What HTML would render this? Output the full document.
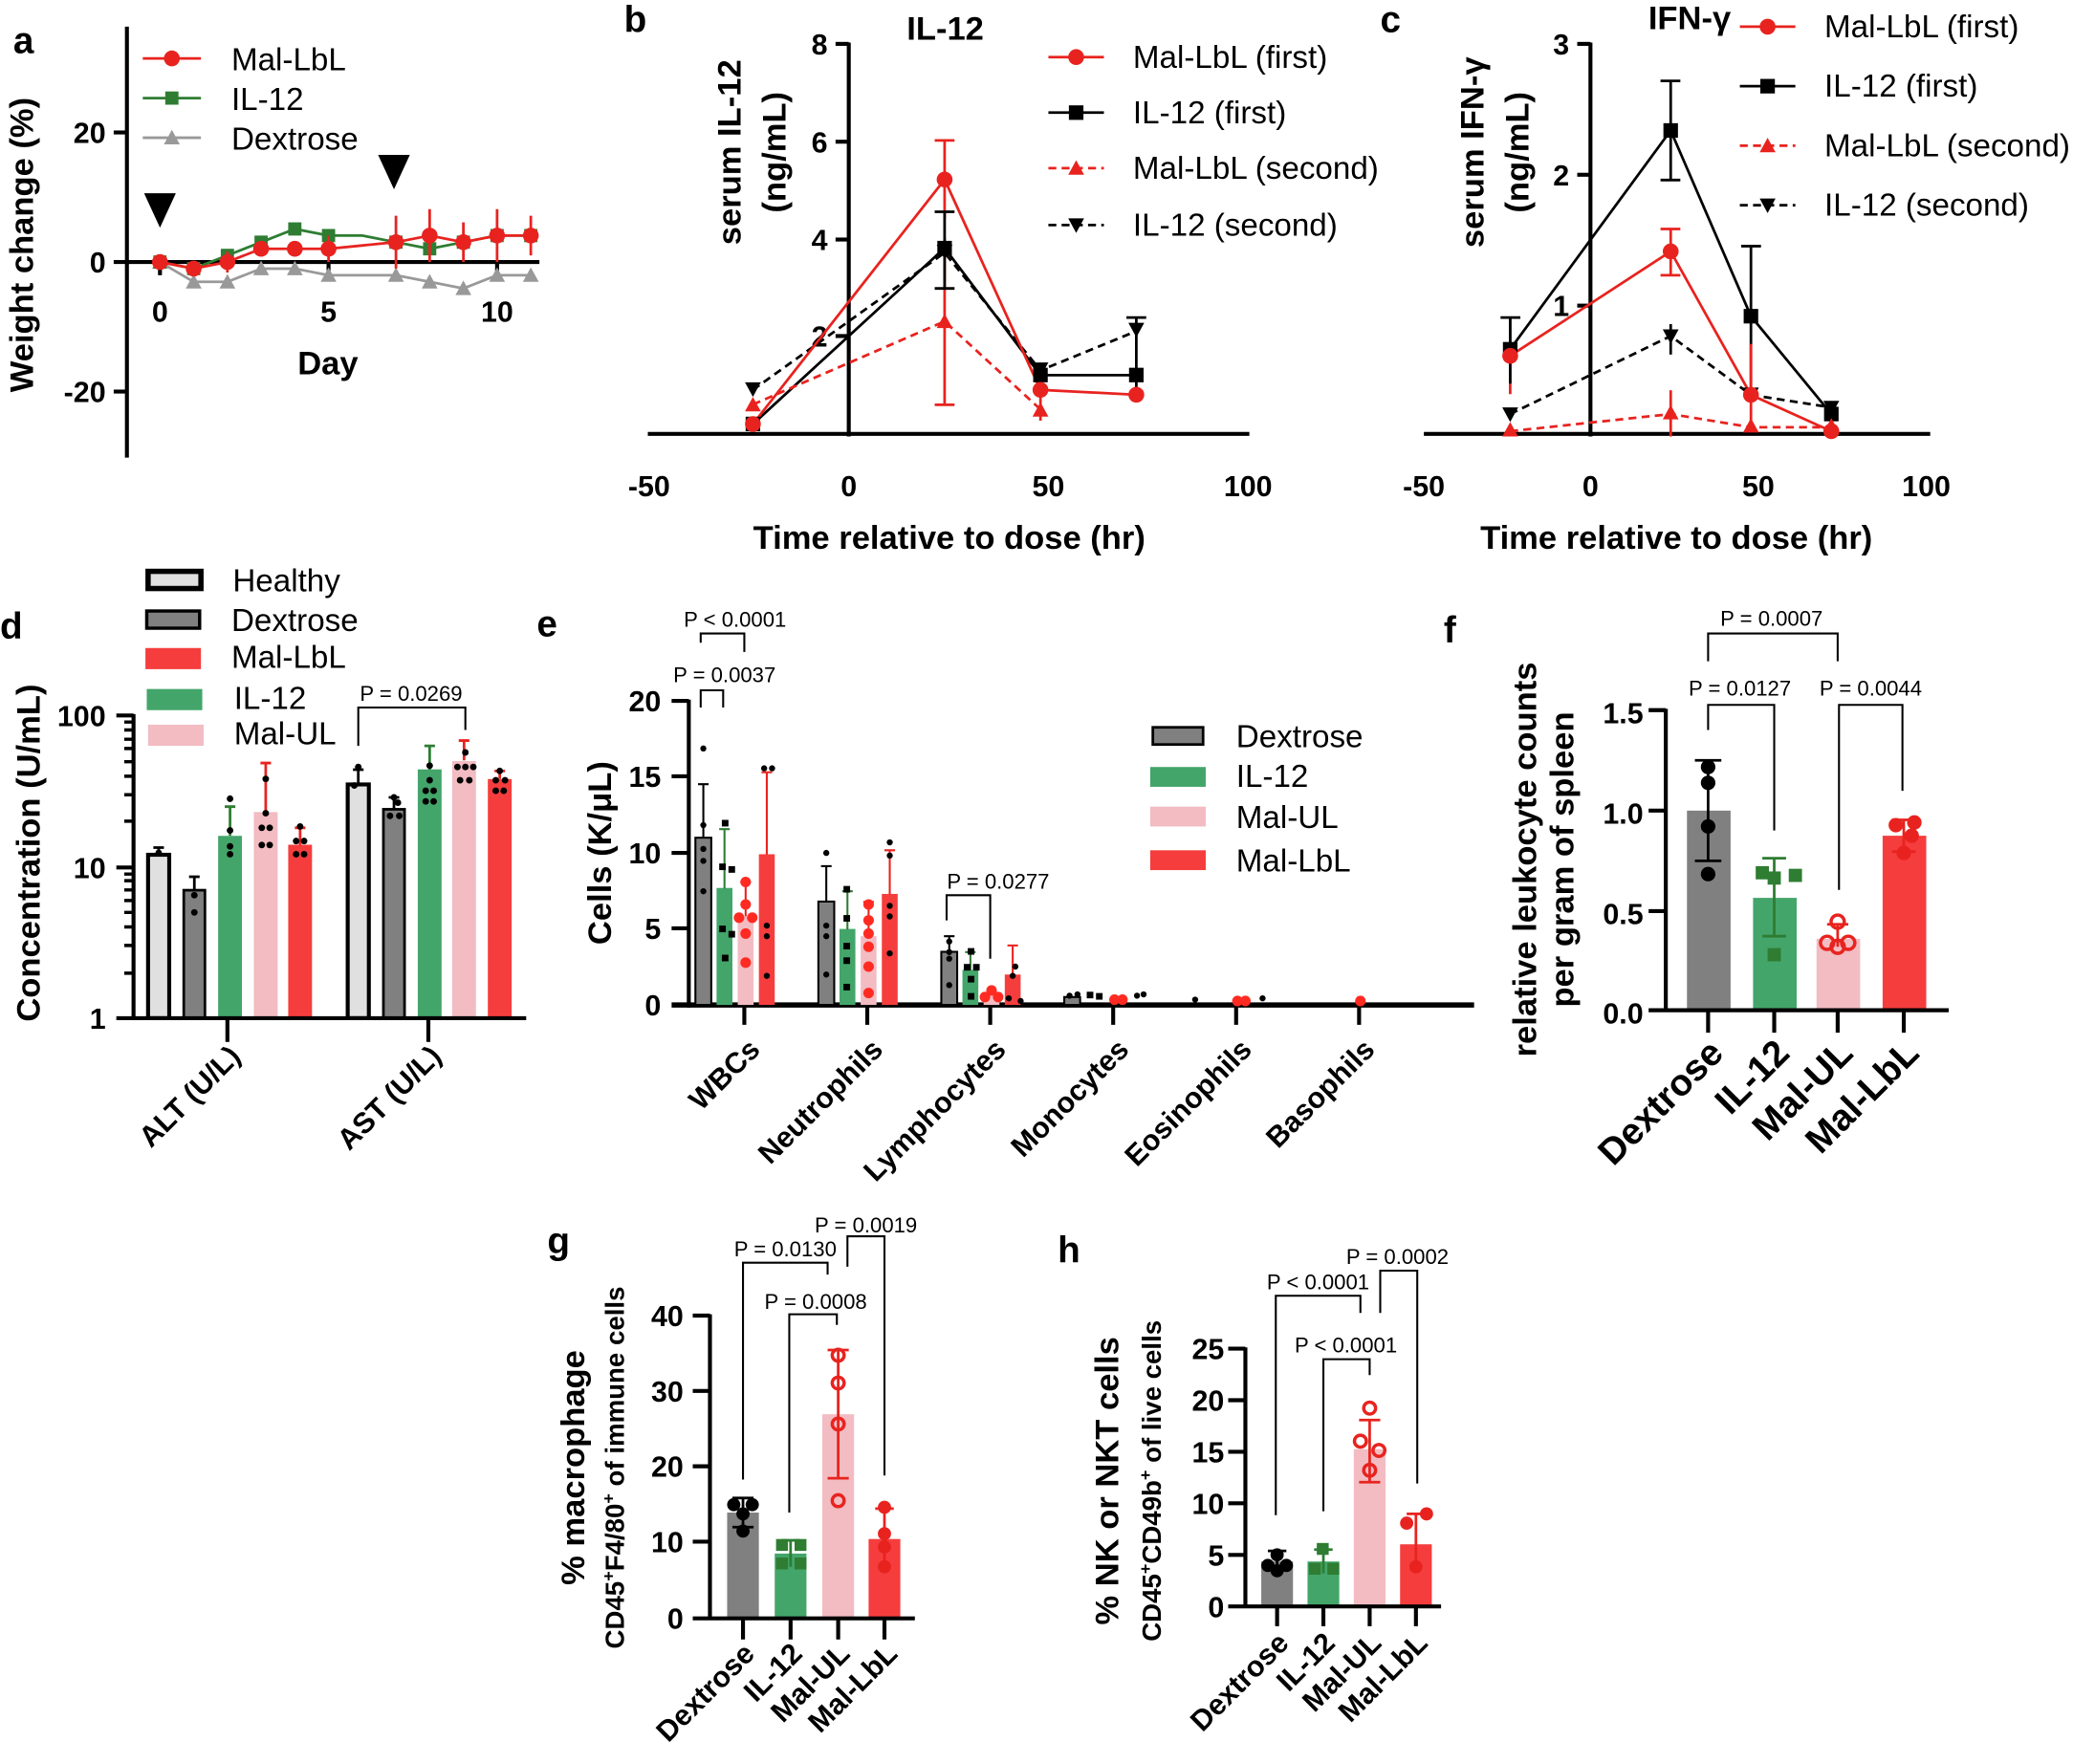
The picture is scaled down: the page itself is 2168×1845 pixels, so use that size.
<!DOCTYPE html>
<html><head><meta charset="utf-8"><style>
html,body{margin:0;padding:0;background:#fff}
svg{display:block}
text{font-family:"Liberation Sans",Arial,sans-serif}
.t{font-weight:bold;font-size:22px}
.lab{font-weight:bold;font-size:25px}
.pl{font-weight:bold;font-size:28px}
.lg{font-size:24px}
.p{font-size:16px}
</style></head><body>
<svg width="2168" height="1845" viewBox="0 0 1568 1334" xmlns="http://www.w3.org/2000/svg">
<rect width="1568" height="1334" fill="#fff"/>

<!-- ===== Panel a ===== -->
<text x="10" y="40" class="pl">a</text>
<g stroke="#000" stroke-width="3" fill="none">
<line x1="96" y1="20" x2="96" y2="346"/>
<line x1="96" y1="198" x2="408" y2="198"/>
<line x1="86" y1="100" x2="96" y2="100"/><line x1="86" y1="198" x2="96" y2="198"/><line x1="86" y1="296" x2="96" y2="296"/>
<line x1="121" y1="198" x2="121" y2="208"/><line x1="248.5" y1="198" x2="248.5" y2="208"/><line x1="376" y1="198" x2="376" y2="208"/>
</g>
<g class="t" text-anchor="end"><text x="80" y="108">20</text><text x="80" y="206">0</text><text x="80" y="304">-20</text></g>
<g class="t" text-anchor="middle"><text x="121" y="243">0</text><text x="248.5" y="243">5</text><text x="376" y="243">10</text></g>
<text x="248" y="283" class="lab" text-anchor="middle">Day</text>
<text transform="translate(25,185) rotate(-90)" class="lab" text-anchor="middle">Weight change  (%)</text>
<polygon points="109,146 133,146 121,172" fill="#000"/>
<polygon points="286,117 310,117 298,143" fill="#000"/>
<polyline fill="none" stroke="#999" stroke-width="2" points="121,198 146.5,213 172,213 197.5,203 223,203 248.5,208 299.5,208 325,213 350.5,218 376,208 401.5,208"/>
<g fill="#999"><polygon points="121,192 127,203 115,203"/><polygon points="146.5,207 152.5,218 140.5,218"/><polygon points="172,207 178,218 166,218"/><polygon points="197.5,197 203.5,208 191.5,208"/><polygon points="223,197 229,208 217,208"/><polygon points="248.5,202 254.5,213 242.5,213"/><polygon points="299.5,202 305.5,213 293.5,213"/><polygon points="325,207 331,218 319,218"/><polygon points="350.5,212 356.5,223 344.5,223"/><polygon points="376,202 382,213 370,213"/><polygon points="401.5,202 407.5,213 395.5,213"/></g>
<polyline fill="none" stroke="#2e7d32" stroke-width="2" points="121,198 146.5,203 172,193 197.5,183 223,173 248.5,178 274,178 299.5,183 325,188 350.5,183 376,178 401.5,178"/>
<g fill="#2e7d32"><rect x="116" y="193" width="10" height="10"/><rect x="141.5" y="198" width="10" height="10"/><rect x="167" y="188" width="10" height="10"/><rect x="192.5" y="178" width="10" height="10"/><rect x="218" y="168" width="10" height="10"/><rect x="243.5" y="173" width="10" height="10"/><rect x="294.5" y="178" width="10" height="10"/><rect x="320" y="183" width="10" height="10"/><rect x="345.5" y="178" width="10" height="10"/><rect x="371" y="173" width="10" height="10"/><rect x="396.5" y="173" width="10" height="10"/></g>
<g stroke="#e8231f" stroke-width="2"><line x1="172" y1="190" x2="172" y2="206"/><line x1="248.5" y1="178" x2="248.5" y2="198"/><line x1="299.5" y1="163" x2="299.5" y2="203"/><line x1="325" y1="158" x2="325" y2="198"/><line x1="376" y1="158" x2="376" y2="198"/><line x1="401.5" y1="163" x2="401.5" y2="193"/><line x1="350.5" y1="168" x2="350.5" y2="198"/></g>
<polyline fill="none" stroke="#e8231f" stroke-width="2" points="121,198 146.5,203 172,198 197.5,188 223,188 248.5,188 299.5,183 325,178 350.5,183 376,178 401.5,178"/>
<g fill="#e8231f"><circle cx="121" cy="198" r="6"/><circle cx="146.5" cy="203" r="6"/><circle cx="172" cy="198" r="6"/><circle cx="197.5" cy="188" r="6"/><circle cx="223" cy="188" r="6"/><circle cx="248.5" cy="188" r="6"/><circle cx="299.5" cy="183" r="6"/><circle cx="325" cy="178" r="6"/><circle cx="350.5" cy="183" r="6"/><circle cx="376" cy="178" r="6"/><circle cx="401.5" cy="178" r="6"/></g>
<line x1="108" y1="44" x2="152" y2="44" stroke="#e8231f" stroke-width="2"/><circle cx="130" cy="44" r="6" fill="#e8231f"/>
<line x1="108" y1="74" x2="152" y2="74" stroke="#2e7d32" stroke-width="2"/><rect x="125" y="69" width="10" height="10" fill="#2e7d32"/>
<line x1="108" y1="104" x2="152" y2="104" stroke="#999" stroke-width="2"/><polygon points="130,98 136,109 124,109" fill="#999"/>
<g class="lg"><text x="175" y="53">Mal-LbL</text><text x="175" y="83">IL-12</text><text x="175" y="113">Dextrose</text></g>

<!-- ===== Panel b ===== -->
<text x="472" y="24" class="pl">b</text>
<text x="715" y="30" class="lab" font-size="28" text-anchor="middle">IL-12</text>
<g stroke="#000" stroke-width="3" fill="none">
<line x1="642" y1="32" x2="642" y2="330"/>
<line x1="490" y1="328" x2="945" y2="328"/>
<line x1="632" y1="33" x2="642" y2="33"/><line x1="632" y1="107" x2="642" y2="107"/><line x1="632" y1="181" x2="642" y2="181"/><line x1="632" y1="254" x2="642" y2="254"/>
</g>
<g class="t" text-anchor="end"><text x="626" y="41">8</text><text x="626" y="115">6</text><text x="626" y="189">4</text><text x="626" y="262">2</text></g>
<g class="t" text-anchor="middle"><text x="491" y="375">-50</text><text x="642" y="375">0</text><text x="793" y="375">50</text><text x="944" y="375">100</text></g>
<text x="718" y="415" class="lab" text-anchor="middle">Time relative to dose (hr)</text>
<text transform="translate(560,115) rotate(-90)" class="lab" text-anchor="middle">serum IL-12</text>
<text transform="translate(594,115) rotate(-90)" class="lab" text-anchor="middle">(ng/mL)</text>
<g stroke-width="2" fill="none">
<line x1="714.5" y1="106" x2="714.5" y2="165" stroke="#e8231f"/><line x1="707" y1="106" x2="722" y2="106" stroke="#e8231f"/>
<line x1="714.5" y1="180" x2="714.5" y2="306" stroke="#e8231f"/><line x1="707" y1="306" x2="722" y2="306" stroke="#e8231f"/>
<line x1="714.5" y1="160" x2="714.5" y2="218" stroke="#000"/><line x1="707" y1="160" x2="722" y2="160" stroke="#000"/><line x1="707" y1="218" x2="722" y2="218" stroke="#000"/>
<line x1="859.5" y1="240" x2="859.5" y2="300" stroke="#000"/><line x1="852" y1="240" x2="867" y2="240" stroke="#000"/>
<line x1="787" y1="275" x2="787" y2="318" stroke="#e8231f"/>
<polyline points="569.5,320.6 714.5,187.4 787,283.6 859.5,283.6" stroke="#000"/>
<polyline points="569.5,294.7 714.5,191 787,280 859.5,250.3" stroke="#000" stroke-dasharray="6,4"/>
<polyline points="569.5,305.8 714.5,242.9 787,309.5" stroke="#e8231f" stroke-dasharray="6,4"/>
<polyline points="569.5,320.6 714.5,135.6 787,294.7 859.5,298.4" stroke="#e8231f"/>
</g>
<g fill="#000"><rect x="564" y="315" width="11" height="11"/><rect x="709" y="182" width="11" height="11"/><rect x="781.5" y="278" width="11" height="11"/><rect x="854" y="278" width="11" height="11"/>
<polygon points="563.5,289 575.5,289 569.5,300"/><polygon points="708.5,185 720.5,185 714.5,196"/><polygon points="781,274 793,274 787,285"/><polygon points="853.5,244 865.5,244 859.5,255"/></g>
<g fill="#e8231f"><polygon points="569.5,300 575.5,311 563.5,311"/><polygon points="714.5,237 720.5,248 708.5,248"/><polygon points="787,304 793,315 781,315"/>
<circle cx="569.5" cy="320.6" r="6"/><circle cx="714.5" cy="135.6" r="6"/><circle cx="787" cy="294.7" r="6"/><circle cx="859.5" cy="298.4" r="6"/></g>
<line x1="793" y1="43" x2="835" y2="43" stroke="#e8231f" stroke-width="2"/><circle cx="814" cy="43" r="6" fill="#e8231f"/>
<line x1="793" y1="85" x2="835" y2="85" stroke="#000" stroke-width="2"/><rect x="808.5" y="79.5" width="11" height="11"/>
<line x1="793" y1="127" x2="835" y2="127" stroke="#e8231f" stroke-width="2" stroke-dasharray="6,4"/><polygon points="814,121 820,132 808,132" fill="#e8231f"/>
<line x1="793" y1="170" x2="835" y2="170" stroke="#000" stroke-width="2" stroke-dasharray="6,4"/><polygon points="808,165 820,165 814,176"/>
<g class="lg"><text x="857" y="51">Mal-LbL (first)</text><text x="857" y="93">IL-12 (first)</text><text x="857" y="135">Mal-LbL (second)</text><text x="857" y="178">IL-12 (second)</text></g>

<!-- ===== Panel c ===== -->
<text x="1044" y="24" class="pl">c</text>
<text x="1278" y="22" class="lab" font-size="28" text-anchor="middle">IFN-γ</text>
<g stroke="#000" stroke-width="3" fill="none">
<line x1="1203" y1="32" x2="1203" y2="330"/>
<line x1="1077" y1="328" x2="1460" y2="328"/>
<line x1="1193" y1="33" x2="1203" y2="33"/><line x1="1193" y1="132" x2="1203" y2="132"/><line x1="1193" y1="231" x2="1203" y2="231"/>
</g>
<g class="t" text-anchor="end"><text x="1187" y="41">3</text><text x="1187" y="140">2</text><text x="1187" y="239">1</text></g>
<g class="t" text-anchor="middle"><text x="1077" y="375">-50</text><text x="1203" y="375">0</text><text x="1330" y="375">50</text><text x="1457" y="375">100</text></g>
<text x="1268" y="415" class="lab" text-anchor="middle">Time relative to dose (hr)</text>
<text transform="translate(1122,115) rotate(-90)" class="lab" text-anchor="middle">serum IFN-γ</text>
<text transform="translate(1156,115) rotate(-90)" class="lab" text-anchor="middle">(ng/mL)</text>
<g stroke-width="2" fill="none">
<line x1="1142.3" y1="240" x2="1142.3" y2="298" stroke="#e8231f"/>
<line x1="1142.3" y1="240" x2="1142.3" y2="290" stroke="#000"/><line x1="1135" y1="240" x2="1150" y2="240" stroke="#000"/>
<line x1="1263.7" y1="61" x2="1263.7" y2="136" stroke="#000"/><line x1="1256" y1="61" x2="1271" y2="61" stroke="#000"/><line x1="1256" y1="136" x2="1271" y2="136" stroke="#000"/>
<line x1="1263.7" y1="173" x2="1263.7" y2="208" stroke="#e8231f"/><line x1="1256" y1="173" x2="1271" y2="173" stroke="#e8231f"/><line x1="1256" y1="208" x2="1271" y2="208" stroke="#e8231f"/>
<line x1="1263.7" y1="295" x2="1263.7" y2="330" stroke="#e8231f"/>
<line x1="1263.7" y1="245" x2="1263.7" y2="268" stroke="#000"/>
<line x1="1324.4" y1="186" x2="1324.4" y2="300" stroke="#000"/><line x1="1317" y1="186" x2="1332" y2="186" stroke="#000"/>
<line x1="1324.4" y1="260" x2="1324.4" y2="320" stroke="#e8231f"/>
<line x1="1385.2" y1="305" x2="1385.2" y2="322" stroke="#000"/>
<polyline points="1142.3,264 1263.7,98.5 1324.4,239 1385.2,313" stroke="#000"/>
<polyline points="1142.3,313 1263.7,254 1324.4,298.5 1385.2,308" stroke="#000" stroke-dasharray="6,4"/>
<polyline points="1142.3,326 1263.7,313 1324.4,323 1385.2,323" stroke="#e8231f" stroke-dasharray="6,4"/>
<polyline points="1142.3,269 1263.7,190 1324.4,298.5 1385.2,326" stroke="#e8231f"/>
</g>
<g fill="#000"><rect x="1136.8" y="258.5" width="11" height="11"/><rect x="1258.2" y="93" width="11" height="11"/><rect x="1318.9" y="233.5" width="11" height="11"/><rect x="1379.7" y="307.5" width="11" height="11"/>
<polygon points="1136.3,308 1148.3,308 1142.3,319"/><polygon points="1257.7,249 1269.7,249 1263.7,260"/><polygon points="1318.4,293 1330.4,293 1324.4,304"/><polygon points="1379.2,303 1391.2,303 1385.2,314"/></g>
<g fill="#e8231f"><polygon points="1142.3,319 1148.3,330 1136.3,330"/><polygon points="1263.7,306 1269.7,317 1257.7,317"/><polygon points="1324.4,316 1330.4,327 1318.4,327"/><polygon points="1385.2,316 1391.2,327 1379.2,327"/>
<circle cx="1142.3" cy="269" r="6"/><circle cx="1263.7" cy="190" r="6"/><circle cx="1324.4" cy="298.5" r="6"/><circle cx="1385.2" cy="326" r="6"/></g>
<line x1="1316" y1="20" x2="1358" y2="20" stroke="#e8231f" stroke-width="2"/><circle cx="1337" cy="20" r="6" fill="#e8231f"/>
<line x1="1316" y1="65" x2="1358" y2="65" stroke="#000" stroke-width="2"/><rect x="1331.5" y="59.5" width="11" height="11"/>
<line x1="1316" y1="110" x2="1358" y2="110" stroke="#e8231f" stroke-width="2" stroke-dasharray="6,4"/><polygon points="1337,104 1343,115 1331,115" fill="#e8231f"/>
<line x1="1316" y1="155" x2="1358" y2="155" stroke="#000" stroke-width="2" stroke-dasharray="6,4"/><polygon points="1331,150 1343,150 1337,161"/>
<g class="lg"><text x="1380" y="28">Mal-LbL (first)</text><text x="1380" y="73">IL-12 (first)</text><text x="1380" y="118">Mal-LbL (second)</text><text x="1380" y="163">IL-12 (second)</text></g>

<!-- ===== Panel d ===== -->
<text x="0" y="483" class="pl">d</text>
<g stroke="#000" stroke-width="2.5">
<rect x="112" y="432" width="40" height="13" fill="#e0e0e0" stroke-width="4"/>
<rect x="111" y="462" width="40" height="13" fill="#808080"/>
</g>
<rect x="110" y="490" width="42" height="16" fill="#f53d3d"/>
<rect x="111" y="521" width="42" height="16" fill="#43a56a"/>
<rect x="112" y="548" width="42" height="16" fill="#f2bcc2"/>
<g class="lg"><text x="176" y="447">Healthy</text><text x="175" y="477">Dextrose</text><text x="175" y="505">Mal-LbL</text><text x="177" y="536">IL-12</text><text x="177" y="563">Mal-UL</text></g>
<g stroke="#000" stroke-width="2">
<rect x="112" y="646.4" width="16" height="123.6" fill="#e0e0e0" stroke-width="3"/>
<rect x="139" y="673.2" width="16" height="96.8" fill="#808080"/>
<rect x="263" y="593.2" width="16" height="176.8" fill="#e0e0e0" stroke-width="3"/>
<rect x="290" y="612" width="16" height="158" fill="#808080"/>
</g>
<rect x="165" y="632.1" width="18" height="137.9" fill="#43a56a"/>
<rect x="192" y="614.1" width="18" height="155.9" fill="#f2bcc2"/>
<rect x="218" y="638.8" width="18" height="131.2" fill="#f53d3d"/>
<rect x="316" y="581.8" width="18" height="188.2" fill="#43a56a"/>
<rect x="342" y="575.5" width="18" height="194.5" fill="#f2bcc2"/>
<rect x="369" y="589.1" width="18" height="180.9" fill="#f53d3d"/>
<g stroke-width="2" fill="none">
<path d="M120 646V641M116 641H124M147 673V663M143 663H151M271 593V582M267 582H275M298 612V603M294 603H302" stroke="#000"/>
<path d="M174 632V610M170 610H178M325 582V564M321 564H329" stroke="#2e7d32"/>
<path d="M201 614V577M197 577H205M227 639V626M223 626H231M351 575V560M347 560H355M378 589V583M374 583H382" stroke="#e8231f"/>
</g>
<g fill="#000"><circle cx="120" cy="645" r="2.5"/><circle cx="147" cy="677" r="2.5"/><circle cx="147" cy="690" r="2.5"/><circle cx="174" cy="604" r="2.5"/><circle cx="174" cy="628" r="2.5"/><circle cx="174" cy="640" r="2.5"/><circle cx="174" cy="646" r="2.5"/><circle cx="201" cy="589" r="2.5"/><circle cx="201" cy="615" r="2.5"/><circle cx="198" cy="626" r="2.5"/><circle cx="204" cy="626" r="2.5"/><circle cx="198" cy="639" r="2.5"/><circle cx="204" cy="639" r="2.5"/><circle cx="227" cy="625" r="2.5"/><circle cx="224" cy="636" r="2.5"/><circle cx="230" cy="636" r="2.5"/><circle cx="224" cy="646" r="2.5"/><circle cx="230" cy="646" r="2.5"/><circle cx="271" cy="580" r="2.5"/><circle cx="268" cy="594" r="2.5"/><circle cx="298" cy="603" r="2.5"/><circle cx="301" cy="607" r="2.5"/><circle cx="295" cy="617" r="2.5"/><circle cx="302" cy="617" r="2.5"/><circle cx="325" cy="579" r="2.5"/><circle cx="325" cy="590" r="2.5"/><circle cx="322" cy="598" r="2.5"/><circle cx="328" cy="598" r="2.5"/><circle cx="322" cy="606" r="2.5"/><circle cx="328" cy="606" r="2.5"/><circle cx="352" cy="569" r="2.5"/><circle cx="346" cy="580" r="2.5"/><circle cx="352" cy="580" r="2.5"/><circle cx="358" cy="580" r="2.5"/><circle cx="348" cy="590" r="2.5"/><circle cx="355" cy="590" r="2.5"/><circle cx="378" cy="583" r="2.5"/><circle cx="375" cy="590" r="2.5"/><circle cx="382" cy="590" r="2.5"/><circle cx="375" cy="598" r="2.5"/><circle cx="381" cy="598" r="2.5"/></g>
<path d="M271 564V535H352V552" stroke="#000" stroke-width="1.5" fill="none"/>
<text x="311" y="530" class="p" text-anchor="middle">P = 0.0269</text>
<g stroke="#000" stroke-width="3" fill="none">
<line x1="101" y1="540" x2="101" y2="771"/>
<line x1="88" y1="770" x2="398" y2="770"/>
<line x1="88" y1="541" x2="101" y2="541"/><line x1="88" y1="656" x2="101" y2="656"/>
<path d="M94 736H101M94 715H101M94 701H101M94 690H101M94 681H101M94 673H101M94 666H101M94 661H101M94 621H101M94 601H101M94 587H101M94 576H101M94 566H101M94 559H101M94 552H101M94 546H101" stroke-width="2.5"/>
<line x1="172" y1="770" x2="172" y2="788"/><line x1="324" y1="770" x2="324" y2="788"/>
</g>
<g class="t" text-anchor="end"><text x="80" y="549">100</text><text x="80" y="664">10</text><text x="80" y="778">1</text></g>
<text transform="translate(30,645) rotate(-90)" class="lab" text-anchor="middle">Concentration (U/mL)</text>
<text transform="translate(183,800) rotate(-45)" class="t" text-anchor="end">ALT (U/L)</text>
<text transform="translate(335,800) rotate(-45)" class="t" text-anchor="end">AST (U/L)</text>

<!-- ===== Panel e ===== -->
<text x="406" y="481" class="pl">e</text>
<g stroke="#000" stroke-width="3" fill="none">
<line x1="521" y1="529" x2="521" y2="762"/>
<line x1="508" y1="760" x2="1115" y2="760" stroke-width="4"/>
<line x1="508" y1="530" x2="521" y2="530"/><line x1="508" y1="587" x2="521" y2="587"/><line x1="508" y1="645" x2="521" y2="645"/><line x1="508" y1="702" x2="521" y2="702"/>
<path d="M563 760V775M656 760V775M749 760V775M842 760V775M935 760V775M1028 760V775"/>
</g>
<g class="t" text-anchor="end"><text x="500" y="538">20</text><text x="500" y="595">15</text><text x="500" y="653">10</text><text x="500" y="710">5</text><text x="500" y="768">0</text></g>
<text transform="translate(462,645) rotate(-90)" class="lab" text-anchor="middle">Cells (K/μL)</text>
<g class="t" text-anchor="end">
<text transform="translate(576,795) rotate(-45)">WBCs</text>
<text transform="translate(669,795) rotate(-45)">Neutrophils</text>
<text transform="translate(762,795) rotate(-45)">Lymphocytes</text>
<text transform="translate(855,795) rotate(-45)">Monocytes</text>
<text transform="translate(948,795) rotate(-45)">Eosinophils</text>
<text transform="translate(1041,795) rotate(-45)">Basophils</text>
</g>
<g stroke="#000" stroke-width="1.5">
<rect x="526" y="633.5" width="12" height="126.5" fill="#808080"/>
<rect x="619" y="681.8" width="12" height="78.2" fill="#808080"/>
<rect x="712" y="719.8" width="12" height="40.2" fill="#808080"/>
<rect x="805" y="754" width="12" height="6" fill="#808080"/>
</g>
<rect x="542" y="671.5" width="12" height="88.5" fill="#43a56a"/>
<rect x="558" y="693.3" width="12" height="66.7" fill="#f2bcc2"/>
<rect x="574" y="646" width="12" height="114" fill="#f53d3d"/>
<rect x="635" y="702.5" width="12" height="57.5" fill="#43a56a"/>
<rect x="651" y="708" width="12" height="52" fill="#f2bcc2"/>
<rect x="667" y="676" width="12" height="84" fill="#f53d3d"/>
<rect x="728" y="733.5" width="12" height="26.5" fill="#43a56a"/>
<rect x="744" y="751" width="12" height="9" fill="#f2bcc2"/>
<rect x="760" y="737" width="12" height="23" fill="#f53d3d"/>
<g stroke-width="1.5" fill="none">
<path d="M532 634V593M528 593H536M625 682V655M621 655H629M718 720V708M714 708H722" stroke="#000"/>
<path d="M548 672V627M544 627H552M641 703V674M637 674H645M734 734V720M730 720H738" stroke="#2e7d32"/>
<path d="M564 693V667M560 667H568M657 708V682M653 682H661" stroke="#e8231f"/>
<path d="M580 646V584M576 584H584M673 676V643M669 643H677M766 737V715M762 715H770" stroke="#e8231f"/>
</g>
<g fill="#000"><circle cx="532" cy="785" r="0"/><circle cx="532" cy="566" r="2.3"/><circle cx="532" cy="624" r="2.3"/><circle cx="532" cy="642" r="2.3"/><circle cx="532" cy="651" r="2.3"/><circle cx="532" cy="674" r="2.3"/><rect x="544" y="653" width="5" height="5"/><rect x="551" y="655" width="5" height="5"/><rect x="544" y="700" width="5" height="5"/><rect x="551" y="704" width="5" height="5"/><rect x="546" y="722" width="5" height="5"/><rect x="546" y="620" width="5" height="5"/><circle cx="578" cy="581" r="2.3"/><circle cx="584" cy="581" r="2.3"/><circle cx="580" cy="700" r="2.3"/><circle cx="580" cy="708" r="2.3"/><circle cx="580" cy="738" r="2.3"/><circle cx="625" cy="645" r="2.3"/><circle cx="625" cy="700" r="2.3"/><circle cx="625" cy="708" r="2.3"/><circle cx="625" cy="737" r="2.3"/><rect x="638" y="670" width="5" height="5"/><rect x="638" y="692" width="5" height="5"/><rect x="638" y="713" width="5" height="5"/><rect x="638" y="724" width="5" height="5"/><rect x="638" y="744" width="5" height="5"/><circle cx="673" cy="637" r="2.3"/><circle cx="673" cy="647" r="2.3"/><circle cx="673" cy="685" r="2.3"/><circle cx="673" cy="693" r="2.3"/><circle cx="673" cy="721" r="2.3"/><circle cx="718" cy="712" r="2.3"/><circle cx="718" cy="720" r="2.3"/><circle cx="718" cy="725" r="2.3"/><circle cx="718" cy="745" r="2.3"/><rect x="732" y="717" width="5" height="5"/><rect x="729" y="729" width="5" height="5"/><rect x="736" y="729" width="5" height="5"/><rect x="732" y="738" width="5" height="5"/><rect x="732" y="751" width="5" height="5"/><circle cx="768" cy="731" r="2.3"/><circle cx="766" cy="738" r="2.3"/><circle cx="763" cy="755" r="2.3"/><circle cx="772" cy="757" r="2.3"/><circle cx="809" cy="753" r="2.3"/><circle cx="815" cy="752" r="2.3"/><rect x="822" y="750" width="5" height="5"/><rect x="829" y="751" width="5" height="5"/><circle cx="860" cy="753" r="2.3"/><circle cx="865" cy="752" r="2.3"/><circle cx="904" cy="756" r="2.3"/><circle cx="955" cy="755" r="2.3"/><circle cx="1030" cy="756" r="2.3"/></g>
<g fill="#ff2b22"><circle cx="564" cy="667" r="4"/><circle cx="564" cy="684" r="4"/><circle cx="559" cy="694" r="4"/><circle cx="569" cy="694" r="4"/><circle cx="564" cy="706" r="4"/><circle cx="564" cy="728" r="4"/><circle cx="657" cy="684" r="4"/><circle cx="657" cy="696" r="4"/><circle cx="657" cy="706" r="4"/><circle cx="657" cy="716" r="4"/><circle cx="657" cy="731" r="4"/><circle cx="657" cy="751" r="4"/><circle cx="750" cy="749" r="4"/><circle cx="745" cy="754" r="4"/><circle cx="755" cy="754" r="4"/><circle cx="843" cy="756" r="4"/><circle cx="849" cy="756" r="4"/><circle cx="936" cy="757" r="4"/><circle cx="942" cy="757" r="4"/><circle cx="1029" cy="757" r="4"/></g>
<path d="M530 486V479H563V493M530 535V522H547V535M716 696V677H749V725" stroke="#000" stroke-width="1.5" fill="none"/>
<g class="p" font-size="18" text-anchor="middle"><text x="556" y="474">P &lt; 0.0001</text><text x="548" y="516">P = 0.0037</text><text x="755" y="672">P = 0.0277</text></g>
<g stroke="#000" stroke-width="2"><rect x="872" y="550" width="38" height="13" fill="#808080"/></g>
<rect x="870" y="580" width="42" height="15" fill="#43a56a"/>
<rect x="870" y="610" width="42" height="15" fill="#f2bcc2"/>
<rect x="870" y="643" width="42" height="15" fill="#f53d3d"/>
<g class="lg"><text x="935" y="565">Dextrose</text><text x="935" y="595">IL-12</text><text x="935" y="626">Mal-UL</text><text x="935" y="659">Mal-LbL</text></g>

<!-- ===== Panel f ===== -->
<text x="1092" y="486" class="pl">f</text>
<rect x="1276" y="613" width="33" height="151" fill="#808080"/>
<rect x="1326" y="679" width="33" height="85" fill="#43a56a"/>
<rect x="1374" y="710" width="33" height="54" fill="#f2bcc2"/>
<rect x="1424" y="632" width="33" height="132" fill="#f53d3d"/>
<g stroke-width="2" fill="none">
<path d="M1292 575V651M1282 575H1302M1282 651H1302" stroke="#000"/>
<path d="M1342 649V708M1333 649H1351M1333 708H1351" stroke="#2e7d32"/>
<path d="M1390 699V716M1382 699H1398" stroke="#e8231f"/>
<path d="M1440 620V644M1431 620H1449M1431 644H1449" stroke="#e8231f"/>
</g>
<g fill="#000"><circle cx="1292" cy="580" r="5.5"/><circle cx="1292" cy="592" r="5.5"/><circle cx="1292" cy="625" r="5.5"/><circle cx="1292" cy="661" r="5.5"/></g>
<g fill="#2e7d32"><rect x="1328" y="655" width="10" height="10"/><rect x="1337" y="659" width="10" height="10"/><rect x="1353" y="657" width="10" height="10"/><rect x="1337" y="717" width="10" height="10"/></g>
<g fill="none" stroke="#e8231f" stroke-width="2.5"><circle cx="1390" cy="697" r="5"/><circle cx="1382" cy="713" r="5"/><circle cx="1390" cy="716" r="5"/><circle cx="1398" cy="713" r="5"/></g>
<g fill="#e8231f"><circle cx="1434" cy="624" r="5.5"/><circle cx="1448" cy="622" r="5.5"/><circle cx="1446" cy="632" r="5.5"/><circle cx="1440" cy="645" r="5.5"/></g>
<path d="M1292 500V479H1390V500M1292 552V533H1342V628M1391 673V533H1439V598" stroke="#000" stroke-width="1.5" fill="none"/>
<g class="p" text-anchor="middle"><text x="1340" y="473">P = 0.0007</text><text x="1316" y="526">P = 0.0127</text><text x="1415" y="526">P = 0.0044</text></g>
<g stroke="#000" stroke-width="3" fill="none">
<line x1="1260" y1="536" x2="1260" y2="765"/>
<line x1="1247" y1="764" x2="1474" y2="764"/>
<path d="M1247 537H1260M1247 613H1260M1247 689H1260M1292 764V781M1342 764V781M1390 764V781M1440 764V781"/>
</g>
<g class="t" font-size="27" text-anchor="end"><text x="1243" y="547">1.5</text><text x="1243" y="623">1.0</text><text x="1243" y="699">0.5</text><text x="1243" y="774">0.0</text></g>
<text transform="translate(1162,650) rotate(-90)" class="lab" text-anchor="middle">relative leukocyte counts</text>
<text transform="translate(1190,650) rotate(-90)" class="lab" text-anchor="middle">per gram of spleen</text>
<g class="pl" font-size="29" text-anchor="end">
<text transform="translate(1305,798) rotate(-45)">Dextrose</text>
<text transform="translate(1355,798) rotate(-45)">IL-12</text>
<text transform="translate(1403,798) rotate(-45)">Mal-UL</text>
<text transform="translate(1453,798) rotate(-45)">Mal-LbL</text>
</g>

<!-- ===== Panel g ===== -->
<text x="414" y="948" class="pl">g</text>
<rect x="550" y="1144" width="24" height="80" fill="#808080"/>
<rect x="586" y="1175" width="24" height="49" fill="#43a56a"/>
<rect x="622" y="1069.6" width="24" height="154.4" fill="#f2bcc2"/>
<rect x="657" y="1164" width="24" height="60" fill="#f53d3d"/>
<g stroke-width="2" fill="none">
<path d="M562 1133V1155M554 1133H570M554 1155H570" stroke="#000"/>
<path d="M598 1165V1185M591 1165H605" stroke="#2e7d32"/>
<path d="M634 1021V1118M626 1021H642M626 1118H642" stroke="#e8231f"/>
<path d="M669 1141V1187M662 1141H676" stroke="#e8231f"/>
</g>
<g fill="#000"><circle cx="555" cy="1138" r="5"/><circle cx="569" cy="1138" r="5"/><circle cx="562" cy="1145" r="5"/><circle cx="562" cy="1158" r="5"/></g>
<g fill="#2e7d32"><rect x="587" y="1164" width="9" height="9"/><rect x="601" y="1164" width="9" height="9"/><rect x="587" y="1178" width="9" height="9"/><rect x="601" y="1178" width="9" height="9"/></g>
<g fill="none" stroke="#e8231f" stroke-width="2.5"><circle cx="634" cy="1025" r="4.5"/><circle cx="634" cy="1046" r="4.5"/><circle cx="634" cy="1077" r="4.5"/><circle cx="634" cy="1135" r="4.5"/></g>
<g fill="#e8231f"><circle cx="669" cy="1140" r="5"/><circle cx="669" cy="1160" r="5"/><circle cx="669" cy="1170" r="5"/><circle cx="669" cy="1185" r="5"/></g>
<path d="M562 1119V955H626V964M597 1144V994H633V1002M641 958V935H669V1116" stroke="#000" stroke-width="1.5" fill="none"/>
<g class="p" font-size="17" text-anchor="middle"><text x="594" y="950">P = 0.0130</text><text x="617" y="990">P = 0.0008</text><text x="655" y="932">P = 0.0019</text></g>
<g stroke="#000" stroke-width="3" fill="none">
<line x1="537" y1="994" x2="537" y2="1225"/>
<line x1="524" y1="1224" x2="692" y2="1224"/>
<path d="M524 995H537M524 1052H537M524 1109H537M524 1166H537M562 1224V1240M598 1224V1240M634 1224V1240M669 1224V1240"/>
</g>
<g class="t" text-anchor="end"><text x="517" y="1003">40</text><text x="517" y="1060">30</text><text x="517" y="1117">20</text><text x="517" y="1174">10</text><text x="517" y="1232">0</text></g>
<text transform="translate(442,1110) rotate(-90)" class="lab" text-anchor="middle">% macrophage</text>
<text transform="translate(472,1110) rotate(-90)" font-size="20" font-weight="bold" text-anchor="middle">CD45<tspan baseline-shift="super" font-size="13">+</tspan>F4/80<tspan baseline-shift="super" font-size="13">+</tspan> of immune cells</text>
<g class="t" font-size="23" text-anchor="end">
<text transform="translate(572,1252) rotate(-45)">Dextrose</text>
<text transform="translate(608,1252) rotate(-45)">IL-12</text>
<text transform="translate(644,1252) rotate(-45)">Mal-UL</text>
<text transform="translate(680,1252) rotate(-45)">Mal-LbL</text>
</g>

<!-- ===== Panel h ===== -->
<text x="800" y="955" class="pl">h</text>
<rect x="954" y="1181" width="24" height="34" fill="#808080"/>
<rect x="989" y="1181" width="24" height="34" fill="#43a56a"/>
<rect x="1024" y="1096" width="24" height="119" fill="#f2bcc2"/>
<rect x="1059" y="1168" width="24" height="47" fill="#f53d3d"/>
<g stroke-width="2" fill="none">
<path d="M966 1173V1189M959 1173H973" stroke="#000"/>
<path d="M1001 1172V1190M994 1172H1008" stroke="#2e7d32"/>
<path d="M1036 1074V1121M1028 1074H1044M1028 1121H1044" stroke="#e8231f"/>
<path d="M1071 1145V1190M1064 1145H1078" stroke="#e8231f"/>
</g>
<g fill="#000"><circle cx="959" cy="1184" r="5"/><circle cx="966" cy="1176" r="5"/><circle cx="973" cy="1184" r="5"/><circle cx="966" cy="1188" r="5"/></g>
<g fill="#2e7d32"><rect x="996" y="1167" width="9" height="9"/><rect x="990" y="1182" width="9" height="9"/><rect x="1004" y="1182" width="9" height="9"/></g>
<g fill="none" stroke="#e8231f" stroke-width="2.5"><circle cx="1036" cy="1065" r="4.5"/><circle cx="1029" cy="1090" r="4.5"/><circle cx="1043" cy="1097" r="4.5"/><circle cx="1036" cy="1112" r="4.5"/></g>
<g fill="#e8231f"><circle cx="1079" cy="1145" r="5"/><circle cx="1064" cy="1152" r="5"/><circle cx="1071" cy="1185" r="5"/></g>
<path d="M965 1146V980H1029V993M1001 1143V1028H1036V1040M1044 993V961H1072V1122" stroke="#000" stroke-width="1.5" fill="none"/>
<g class="p" font-size="17" text-anchor="middle"><text x="997" y="975">P &lt; 0.0001</text><text x="1018" y="1023">P &lt; 0.0001</text><text x="1057" y="956">P = 0.0002</text></g>
<g stroke="#000" stroke-width="3" fill="none">
<line x1="942" y1="1019" x2="942" y2="1216"/>
<line x1="929" y1="1215" x2="1090" y2="1215"/>
<path d="M929 1020H942M929 1059H942M929 1098H942M929 1137H942M929 1176H942M966 1215V1230M1001 1215V1230M1036 1215V1230M1071 1215V1230"/>
</g>
<g class="t" text-anchor="end"><text x="926" y="1028">25</text><text x="926" y="1067">20</text><text x="926" y="1106">15</text><text x="926" y="1145">10</text><text x="926" y="1184">5</text><text x="926" y="1223">0</text></g>
<text transform="translate(846,1120) rotate(-90)" class="lab" text-anchor="middle">% NK or NKT cells</text>
<text transform="translate(878,1120) rotate(-90)" font-size="20" font-weight="bold" text-anchor="middle">CD45<tspan baseline-shift="super" font-size="13">+</tspan>CD49b<tspan baseline-shift="super" font-size="13">+</tspan> of live cells</text>
<g class="t" font-size="23" text-anchor="end">
<text transform="translate(976,1244) rotate(-45)">Dextrose</text>
<text transform="translate(1011,1244) rotate(-45)">IL-12</text>
<text transform="translate(1046,1244) rotate(-45)">Mal-UL</text>
<text transform="translate(1081,1244) rotate(-45)">Mal-LbL</text>
</g>
</svg>
</body></html>
